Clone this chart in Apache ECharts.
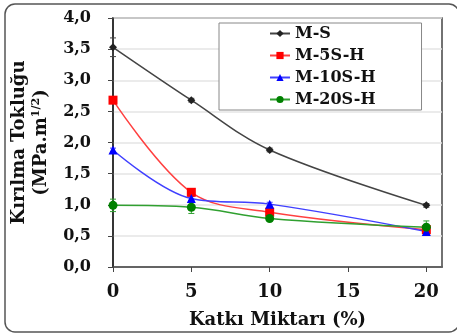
<!DOCTYPE html>
<html>
<head>
<meta charset="utf-8">
<script src="https://cdn.jsdelivr.net/npm/echarts@6/dist/echarts.min.js"></script>
<style>
  html, body { margin: 0; padding: 0; background: #fff; }
  #main { width: 457px; height: 336px; }
</style>
</head>
<body>
<div id="main"></div>
<script>
// katki miktari (%)
var xValues = [0, 5, 10, 20];
var seriesNames = ['M-S', 'M-5S-H', 'M-10S-H', 'M-20S-H'];
var msData = [3.53, 2.68, 1.88, 0.99];
var m5Data = [2.68, 1.20, 0.88, 0.60];
var m10Data = [1.88, 1.10, 1.01, 0.57];
var m20Data = [0.99, 0.96, 0.78, 0.64];
// hata cubuklari (+/-)
var msErr = [0.15, 0.03, 0.03, 0.03];
var m5Err = [0.03, 0.06, 0.05, 0.03];
var m10Err = [0.03, 0.03, 0.03, 0.03];
var m20Err = [0.10, 0.10, 0.03, 0.10];
var yTicks = [0, 0.5, 1, 1.5, 2, 2.5, 3, 3.5, 4];

var colors = ['#222222', '#ff0000', '#0000ff', '#008000'];
var lineColors = ['#444444', '#ff4040', '#4040ff', '#30a030'];
var symbols = ['diamond', 'rect', 'triangle', 'circle'];
var symbolSizes = [8, 9, 9, 9];
var allData = [msData, m5Data, m10Data, m20Data];
var allErr = [msErr, m5Err, m10Err, m20Err];
var serifFont = '"DejaVu Serif", "Liberation Serif", serif';

var chart = echarts.init(document.getElementById('main'));

var series = [];
for (let i = 0; i < seriesNames.length; i++) {
  series.push({
    name: seriesNames[i],
    type: 'line',
    smooth: 0.35,
    symbol: symbols[i],
    symbolSize: symbolSizes[i],
    data: xValues.map(function (x, j) { return [x, allData[i][j]]; }),
    lineStyle: { color: lineColors[i], width: 1.5 },
    itemStyle: { color: colors[i] },
    z: 3
  });
}
// error bars
var errData = [];
for (let i = 0; i < seriesNames.length; i++) {
  for (let j = 0; j < xValues.length; j++) {
    errData.push([xValues[j], allData[i][j] - allErr[i][j], allData[i][j] + allErr[i][j], i]);
  }
}
series.push({
  type: 'custom',
  data: errData,
  z: 2,
  silent: true,
  renderItem: function (params, api) {
    var lo = api.coord([api.value(0), api.value(1)]);
    var hi = api.coord([api.value(0), api.value(2)]);
    var c = lineColors[api.value(3)];
    return {
      type: 'group',
      children: [
        { type: 'line', shape: { x1: lo[0], y1: lo[1], x2: hi[0], y2: hi[1] }, style: { stroke: c, lineWidth: 1 } },
        { type: 'line', shape: { x1: lo[0] - 3, y1: lo[1], x2: lo[0] + 3, y2: lo[1] }, style: { stroke: c, lineWidth: 1 } },
        { type: 'line', shape: { x1: hi[0] - 3, y1: hi[1], x2: hi[0] + 3, y2: hi[1] }, style: { stroke: c, lineWidth: 1 } }
      ]
    };
  }
});

var option = {
  animation: false,
  grid: { left: 113, right: 15, top: 18, bottom: 69, show: true, borderColor: '#444', borderWidth: 1.5 },
  legend: {
    data: seriesNames,
    orient: 'vertical',
    left: 219,
    top: 23,
    padding: [2, 46, 2, 50],
    itemWidth: 20,
    itemHeight: 9,
    itemGap: 5,
    borderColor: '#888',
    borderWidth: 1,
    backgroundColor: '#fff',
    textStyle: { fontFamily: serifFont, fontWeight: 'bold', fontSize: 16, lineHeight: 17, color: '#111' }
  },
  xAxis: {
    type: 'value',
    min: 0,
    max: 21,
    interval: 5,
    name: 'Katkı Miktarı (%)',
    nameLocation: 'middle',
    nameGap: 44,
    nameTextStyle: { fontFamily: serifFont, fontWeight: 'bold', fontSize: 18, color: '#111' },
    axisLine: { lineStyle: { color: '#444', width: 1.5 } },
    axisTick: { show: true, length: 5, lineStyle: { color: '#444' } },
    axisLabel: {
      margin: 16,
      showMaxLabel: false,
      fontFamily: serifFont, fontWeight: 'bold', fontSize: 18, color: '#111',
      formatter: function (v) { return v % 5 === 0 ? String(v) : ''; }
    },
    splitLine: { show: false }
  },
  yAxis: {
    type: 'value',
    min: 0,
    max: 4,
    interval: 0.5,
    name: 'Kırılma Tokluğu\n(MPa.m{sup|1/2})',
    nameLocation: 'middle',
    nameGap: 57,
    nameTextStyle: {
      fontFamily: serifFont, fontWeight: 'bold', fontSize: 18, color: '#111', lineHeight: 22,
      rich: { sup: { fontFamily: serifFont, fontWeight: 'bold', fontSize: 11, color: '#111', verticalAlign: 'top', lineHeight: 22 } }
    },
    axisLine: { lineStyle: { color: '#222', width: 1.5 } },
    axisTick: { show: true, length: 5, lineStyle: { color: '#444' } },
    axisLabel: {
      margin: 22,
      fontFamily: serifFont, fontWeight: 'bold', fontSize: 16, color: '#111',
      formatter: function (v) { return yTicks.indexOf(v) >= 0 ? v.toFixed(1).replace('.', ',') : ''; }
    },
    splitLine: { show: true, lineStyle: { color: '#e4e4e4', width: 1.5 } }
  },
  graphic: [{
    type: 'rect',
    shape: { x: 5, y: 4, width: 454, height: 328, r: 10 },
    style: { fill: 'none', stroke: '#555', lineWidth: 1.5 },
    silent: true
  }],
  series: series
};
chart.setOption(option);
window.addEventListener('resize', chart.resize);
</script>
</body>
</html>
